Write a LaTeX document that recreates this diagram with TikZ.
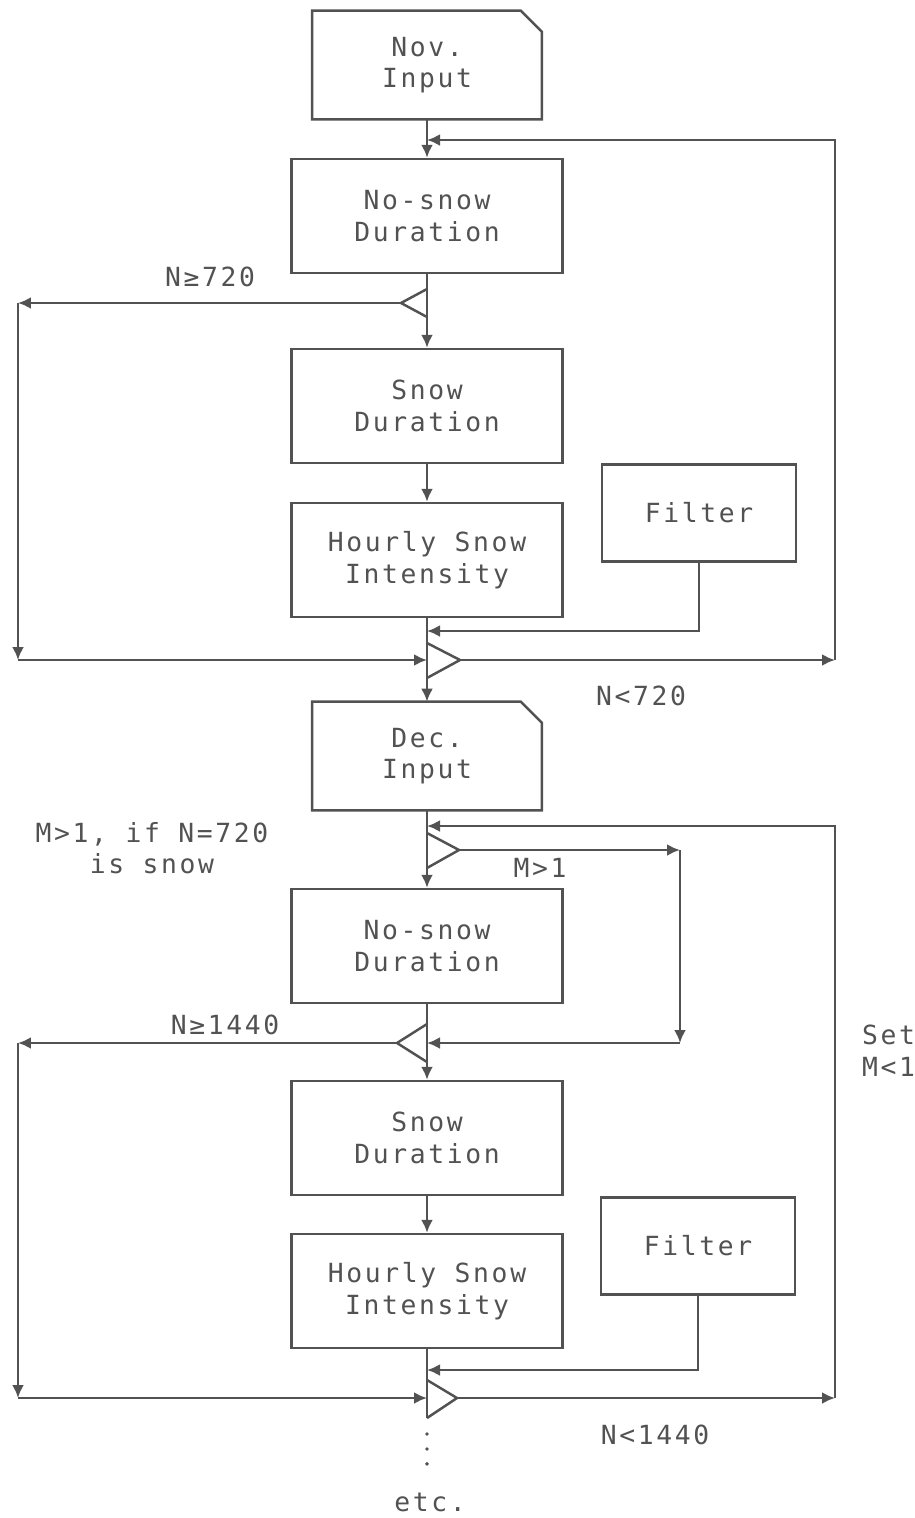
\documentclass[tikz,border=0pt]{standalone}
\usepackage{fontspec}
\newfontfamily\typer[LetterSpace=10]{DejaVu Sans Mono}
\usetikzlibrary{arrows.meta}
\definecolor{ink}{gray}{0.32}

\begin{document}
\begin{tikzpicture}[x=0.02cm,y=-0.02cm,
    every node/.style={font=\typer\fontsize{15}{18}\selectfont, text=ink, align=center},
    box/.style={draw=ink, line width=1.4pt, minimum width=5.42cm, minimum height=2.28cm, inner sep=0pt},
    filterbox/.style={box, minimum width=3.88cm, minimum height=1.94cm},
    inputbox/.style={minimum width=4.58cm, minimum height=2.16cm, inner sep=0pt},
    wire/.style={draw=ink, line width=1.4pt, line join=miter},
    flow/.style={wire, -{Latex[length=2.6mm,width=2.4mm]}}]
  \useasboundingbox (0,0) rectangle (914,1518);

  % November
  \node[inputbox] (nov) at (427,65) {Nov.\\Input};
  \draw[wire] (nov.north west) -- ([xshift=-0.42cm]nov.north east)
    -- ([yshift=-0.42cm]nov.north east) -- (nov.south east) -- (nov.south west) -- cycle;
  \node[box] (ns1) at (427,216) {No-snow\\Duration};
  \node[box] (sd1) at (427,406) {Snow\\Duration};
  \node[box] (hs1) at (427,560) {Hourly Snow\\Intensity};
  \node[filterbox] (f1) at (699,513) {Filter};

  % December
  \node[inputbox] (dec) at (427,756) {Dec.\\Input};
  \draw[wire] (dec.north west) -- ([xshift=-0.42cm]dec.north east)
    -- ([yshift=-0.42cm]dec.north east) -- (dec.south east) -- (dec.south west) -- cycle;
  \node[box] (ns2) at (427,946) {No-snow\\Duration};
  \node[box] (sd2) at (427,1138) {Snow\\Duration};
  \node[box] (hs2) at (427,1291) {Hourly Snow\\Intensity};
  \node[filterbox] (f2) at (698,1246) {Filter};

  % Tests on the main line
  \coordinate (t1tip) at (401,303);
  \coordinate (t2tip) at (460,660);
  \coordinate (t3tip) at (459,850);
  \coordinate (t4tip) at (397,1043);
  \coordinate (t5tip) at (457,1398);
  \draw[wire] (427,289) -- (t1tip) -- (427,317);
  \draw[wire] (427,643) -- (t2tip) -- (427,678);
  \draw[wire] (427,833) -- (t3tip) -- (427,868);
  \draw[wire] (427,1024) -- (t4tip) -- (427,1062);
  \draw[wire] (427,1380) -- (t5tip) -- (427,1418);

  % Main line
  \draw[flow] (nov) -- (ns1);
  \draw[flow] (ns1) -- (sd1);
  \draw[flow] (sd1) -- (hs1);
  \draw[flow] (hs1) -- (dec);
  \draw[flow] (dec) -- (ns2);
  \draw[flow] (ns2) -- (sd2);
  \draw[flow] (sd2) -- (hs2);
  \coordinate (end) at (427,1418);
  \draw[wire] (hs2) -- (end);
  \draw[ink, line width=2.2pt, line cap=round, dash pattern=on 0pt off 8.5pt] (427,1434) -- (427,1470);

  % Loops, first month
  \coordinate (in1) at (427,140);
  \coordinate (r1) at (835,660);
  \coordinate (l1) at (18,303);
  \coordinate (l2) at (18,660);
  \coordinate (in2) at (427,660);
  \coordinate (fin1) at (427,631);
  \draw[flow] (t2tip) -- (r1);
  \draw[flow] (r1) |- (in1);
  \draw[flow] (t1tip) -- (l1);
  \draw[flow] (l1) -- (l2);
  \draw[flow] (l2) -- (in2);
  \draw[flow] (f1.south) |- (fin1);

  % Loops, second month
  \coordinate (in3) at (427,826);
  \coordinate (r2) at (835,1398);
  \coordinate (m1) at (680,850);
  \coordinate (m2) at (680,1043);
  \coordinate (in4) at (427,1043);
  \coordinate (l3) at (18,1043);
  \coordinate (l4) at (18,1398);
  \coordinate (in5) at (427,1398);
  \coordinate (fin2) at (427,1370);
  \draw[flow] (t5tip) -- (r2);
  \draw[flow] (r2) |- (in3);
  \draw[flow] (t3tip) -- (m1);
  \draw[flow] (m1) -- (m2);
  \draw[flow] (m2) -- (in4);
  \draw[flow] (t4tip) -- (l3);
  \draw[flow] (l3) -- (l4);
  \draw[flow] (l4) -- (in5);
  \draw[flow] (f2.south) |- (fin2);

  % Labels
  \node (nge720) at (210,277) {N≥720};
  \node (nlt720) at (641,696) {N<720};
  \node (mnote) at (152,848) {M>1, if N=720\\is snow};
  \node (mgt1) at (540,868) {M>1};
  \node (nge1440) at (225,1025) {N≥1440};
  \node[anchor=west, align=left] (setm) at (856,1051) {Set\\M<1};
  \node (nlt1440) at (655,1435) {N<1440};
  \node (etc) at (430,1502) {etc.};
\end{tikzpicture}
\end{document}
